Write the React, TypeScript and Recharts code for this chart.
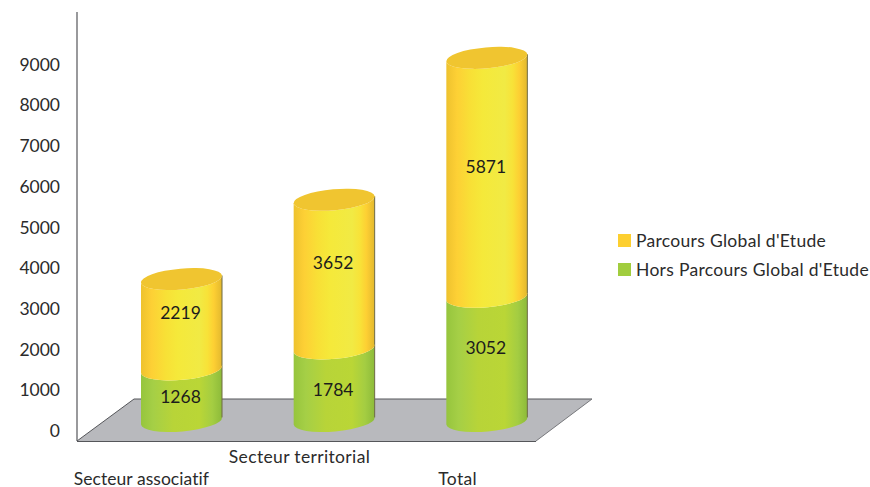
import { BarChart, Bar, XAxis, YAxis, Customized, LabelList, Legend } from 'recharts';

const categories = ['Secteur associatif', 'Secteur territorial', 'Total'];
const horsParcours = [1268, 1784, 3052];
const parcours = [2219, 3652, 5871];
const yTicks = [0, 1000, 2000, 3000, 4000, 5000, 6000, 7000, 8000, 9000];
const seriesNames = ["Parcours Global d'Etude", "Hors Parcours Global d'Etude"];

const data = categories.map((name, i) => ({
  name,
  hors: horsParcours[i],
  parcours: parcours[i],
}));

const FONT = 'Lato, "Open Sans", sans-serif';
const TEXT = '#2b2b2b';
const TILT = 3.6;
const RY = 10.5;

function Cylinder({ x, y, width, height, fill, lid }: any) {
  const rx = Math.sqrt((width / 2) ** 2 + TILT ** 2);
  const xr = x + width;
  const yb = y + height;
  const arcFront = (fromX: number, fromY: number, toX: number, toY: number, sweep: number) =>
    `M${fromX},${fromY} A${rx},${RY} -5 0 ${sweep} ${toX},${toY}`;
  const body =
    arcFront(x, y + TILT, xr, y - TILT, 0) +
    ` L${xr},${yb - TILT} A${rx},${RY} -5 0 1 ${x},${yb + TILT} Z`;
  return (
    <g>
      <path d={body} fill={fill} />
      <line x1={xr} y1={y - TILT} x2={xr} y2={yb - TILT} stroke="#6e6a45" strokeWidth={1} />
      {lid && (
        <path
          d={`M${x},${y + TILT} A${rx},${RY} -5 0 1 ${xr},${y - TILT} A${rx},${RY} -5 0 1 ${x},${y + TILT} Z`}
          fill="#f0c530"
        />
      )}
    </g>
  );
}

function Floor() {
  return (
    <g>
      <polygon points="77,441 134,399 592,399 536,441" fill="#b8b9bd" />
      <line x1={134} y1={399} x2={592} y2={399} stroke="#55565a" strokeWidth={1} />
      <line x1={592} y1={399} x2={536} y2={441} stroke="#77787c" strokeWidth={1} />
      <line x1={77} y1={441.5} x2={536} y2={441.5} stroke="#55565a" strokeWidth={1.2} />
      <line x1={77} y1={441} x2={134} y2={399} stroke="#55565a" strokeWidth={1} />
      <line x1={77} y1={12} x2={77} y2={441} stroke="#55565a" strokeWidth={1.2} />
    </g>
  );
}

function YTick({ y, payload }: any) {
  return (
    <text x={60} y={y + 16} textAnchor="end" fontFamily={FONT} fontSize={17.5} fill={TEXT}>
      {payload.value}
    </text>
  );
}

function XTick({ x, payload, index }: any) {
  const rowY = index === 1 ? 463 : 485;
  return (
    <text
      x={x - 40 + 5.5 * index}
      y={rowY}
      textAnchor="middle"
      fontFamily={FONT}
      fontSize={17.5}
      letterSpacing={index === 0 ? 0.05 : 0.35}
      fill={TEXT}
    >
      {payload.value}
    </text>
  );
}

const valueLabel = (nudges: number[]) => (props: any) => {
  const { x, y, width, height, value, index } = props;
  return (
    <text
      x={x + width / 2 - 1}
      y={y + height / 2 + nudges[index] + 6}
      textAnchor="middle"
      fontFamily={FONT}
      fontSize={17.5}
      fill="#1c1c1c"
    >
      {value}
    </text>
  );
};

function LegendBox() {
  const colors = ['#fdcf30', '#a1cd3e'];
  return (
    <div style={{ fontFamily: FONT, fontSize: 17.5, color: TEXT, letterSpacing: 0.3 }}>
      {seriesNames.map((label, i) => (
        <div key={label} style={{ display: 'flex', alignItems: 'center', height: 29 }}>
          <span style={{ width: 13, height: 13, background: colors[i], marginRight: 5, display: 'inline-block' }} />
          <span style={{ whiteSpace: 'nowrap' }}>{label}</span>
        </div>
      ))}
    </div>
  );
}

export default function App() {
  return (
    <div style={{ position: 'absolute', left: 0, top: 0, width: 870, height: 487, background: '#fff' }}>
      <BarChart
        width={870}
        height={487}
        data={data}
        barSize={81}
        margin={{ top: 14, right: 55, bottom: 0, left: 0 }}
      >
        <defs>
          <linearGradient id="yellowBody" x1="0" y1="0" x2="1" y2="0">
            <stop offset="0" stopColor="#eec22e" />
            <stop offset="0.13" stopColor="#fdd035" />
            <stop offset="0.3" stopColor="#f8e036" />
            <stop offset="0.45" stopColor="#f5e93a" />
            <stop offset="0.72" stopColor="#f1ea44" />
            <stop offset="0.82" stopColor="#f8e238" />
            <stop offset="0.9" stopColor="#fdcf33" />
            <stop offset="1" stopColor="#e2b82e" />
          </linearGradient>
          <linearGradient id="greenBody" x1="0" y1="0" x2="1" y2="0">
            <stop offset="0" stopColor="#96c53d" />
            <stop offset="0.15" stopColor="#a5cf46" />
            <stop offset="0.4" stopColor="#b8d438" />
            <stop offset="0.72" stopColor="#bad636" />
            <stop offset="0.88" stopColor="#a4cd42" />
            <stop offset="1" stopColor="#8dbb3a" />
          </linearGradient>
        </defs>
        <Customized component={Floor} />
        <XAxis
          dataKey="name"
          height={66}
          axisLine={false}
          tickLine={false}
          interval={0}
          tick={XTick}
        />
        <YAxis
          width={105}
          domain={[0, 10000]}
          ticks={yTicks}
          axisLine={false}
          tickLine={false}
          tick={YTick}
        />
        <Legend
          layout="vertical"
          align="right"
          verticalAlign="top"
          wrapperStyle={{ left: 618, top: 226, width: 252 }}
          content={LegendBox}
        />
        <Bar
          dataKey="hors"
          name={seriesNames[1]}
          stackId="a"
          isAnimationActive={false}
          shape={(p: any) => <Cylinder {...p} fill="url(#greenBody)" />}
        >
          <LabelList dataKey="hors" content={valueLabel([2, 5, -11])} />
        </Bar>
        <Bar
          dataKey="parcours"
          name={seriesNames[0]}
          stackId="a"
          isAnimationActive={false}
          shape={(p: any) => <Cylinder {...p} fill="url(#yellowBody)" lid />}
        >
          <LabelList dataKey="parcours" content={valueLabel([-11, -11, -10])} />
        </Bar>
      </BarChart>
    </div>
  );
}
